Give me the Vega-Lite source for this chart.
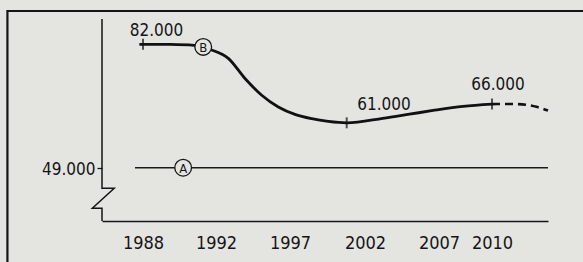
{
  "$schema": "https://vega.github.io/schema/vega-lite/v6.json",
  "autosize": {"type": "none"},
  "padding": {"left": 102, "top": 19, "right": 35, "bottom": 41},
  "width": 446,
  "height": 202,
  "background": "#e4e4e1",
  "config": {
    "view": {"stroke": null},
    "locale": {"number": {"decimal": ",", "thousands": ".", "grouping": [3], "currency": ["", " €"]}},
    "font": "DejaVu Sans Condensed"
  },
  "datasets": {
    "b": [
      {"year": 1987.8, "value": 82000},
      {"year": 1988, "value": 82000},
      {"year": 1989.5, "value": 81950},
      {"year": 1990.8, "value": 81700},
      {"year": 1991.76, "value": 80470},
      {"year": 1992.83, "value": 78240},
      {"year": 1993.96, "value": 72860},
      {"year": 1995.09, "value": 68370},
      {"year": 1996.21, "value": 65230},
      {"year": 1997.33, "value": 63260},
      {"year": 1998.45, "value": 62110},
      {"year": 1999.55, "value": 61380},
      {"year": 2000.78, "value": 61000},
      {"year": 2003.2, "value": 62200},
      {"year": 2005, "value": 63300},
      {"year": 2006.6, "value": 64300},
      {"year": 2008.36, "value": 65400},
      {"year": 2010, "value": 66000}
    ],
    "bdash": [
      {"year": 2010, "value": 66000},
      {"year": 2011, "value": 66050},
      {"year": 2012, "value": 65800},
      {"year": 2012.6, "value": 65200},
      {"year": 2013.2, "value": 64300}
    ],
    "a": [
      {"year": 1987.56, "value": 49000},
      {"year": 2013.2, "value": 49000}
    ],
    "marks": [
      {"year": 1988, "value": 82000},
      {"year": 2000.78, "value": 61000},
      {"year": 2010, "value": 66000}
    ],
    "labels": [
      {"year": 1988.74, "value": 84220, "label": 82000},
      {"year": 2003.28, "value": 64430, "label": 61000},
      {"year": 2010.34, "value": 69780, "label": 66000}
    ],
    "circles": [
      {"year": 1991.3, "value": 81300, "letter": "B"},
      {"year": 1990.2, "value": 49000, "letter": "A"}
    ],
    "axisline": [
      {"year": 1985.75, "value": 88760},
      {"year": 1985.75, "value": 43500},
      {"year": 1986.42, "value": 43500},
      {"year": 1985.22, "value": 38150},
      {"year": 1985.75, "value": 38150},
      {"year": 1985.75, "value": 34750}
    ],
    "frame": [
      {"year": 2016.5, "value": 90900},
      {"year": 1980.56, "value": 90900},
      {"year": 1980.56, "value": 22000}
    ],
    "years": [
      {"year": 1988}, {"year": 1992}, {"year": 1997}, {"year": 2002}, {"year": 2007}, {"year": 2010}
    ]
  },
  "encoding": {
    "x": {
      "field": "year",
      "type": "quantitative",
      "scale": {
        "domain": [1985.75, 1988, 1992, 1997, 2002, 2007, 2010, 2013.2],
        "range": [0, 41, 114, 188, 263, 337, 390, 446],
        "nice": false,
        "zero": false
      },
      "axis": {
        "values": [1988, 1992, 1997, 2002, 2007, 2010],
        "format": "d",
        "title": null,
        "grid": false,
        "ticks": false,
        "tickSize": 0,
        "domain": true,
        "domainColor": "#151515",
        "domainWidth": 1.7,
        "labelFont": "DejaVu Sans Condensed",
        "labelFontSize": 18,
        "labelColor": "#151515",
        "labelPadding": 27,
        "labelBaseline": "alphabetic",
        "labelFlush": false,
        "labelOverlap": false
      }
    },
    "y": {
      "field": "value",
      "type": "quantitative",
      "scale": {"domain": [34750, 88760], "nice": false, "zero": false},
      "axis": {
        "values": [49000],
        "format": ",d",
        "title": null,
        "grid": false,
        "domain": false,
        "ticks": true,
        "tickSize": 5,
        "tickWidth": 1.3,
        "tickColor": "#151515",
        "labelFont": "DejaVu Sans Condensed",
        "labelFontSize": 17,
        "labelColor": "#151515",
        "labelPadding": 2,
        "labelOffset": 2
      }
    }
  },
  "layer": [
    {
      "data": {"name": "frame"},
      "mark": {"type": "line", "color": "#151515", "strokeWidth": 2.2, "strokeJoin": "miter"},
      "encoding": {"order": {"value": null}}
    },
    {
      "data": {"name": "axisline"},
      "mark": {"type": "line", "color": "#151515", "strokeWidth": 1.5, "strokeJoin": "miter"},
      "encoding": {"order": {"value": null}}
    },
    {
      "data": {"name": "years"},
      "mark": {"type": "rule", "color": "#151515", "strokeWidth": 1.4},
      "encoding": {"y": {"datum": 33950}, "y2": {"datum": 35820}}
    },
    {
      "data": {"name": "a"},
      "mark": {"type": "line", "color": "#1a1a1a", "strokeWidth": 1.6},
      "encoding": {}
    },
    {
      "data": {"name": "b"},
      "mark": {"type": "line", "color": "#111111", "strokeWidth": 2.8, "interpolate": "monotone"},
      "encoding": {}
    },
    {
      "data": {"name": "bdash"},
      "mark": {"type": "line", "color": "#111111", "strokeWidth": 2.6, "interpolate": "monotone", "strokeDash": [8, 5]},
      "encoding": {}
    },
    {
      "data": {"name": "marks"},
      "mark": {"type": "tick", "orient": "vertical", "color": "#111111", "thickness": 2, "size": 11}
    },
    {
      "data": {"name": "labels"},
      "mark": {"type": "text", "font": "DejaVu Sans Condensed", "fontSize": 17, "color": "#151515", "align": "center", "baseline": "alphabetic"},
      "encoding": {"text": {"field": "label", "type": "quantitative", "format": ",d"}}
    },
    {
      "data": {"name": "circles"},
      "mark": {"type": "point", "shape": "circle", "filled": false, "fill": "#e4e4e1", "fillOpacity": 1, "stroke": "#151515", "strokeWidth": 1.3, "opacity": 1, "size": 280}
    },
    {
      "data": {"name": "circles"},
      "mark": {"type": "text", "font": "DejaVu Sans Condensed", "fontSize": 13, "color": "#151515", "align": "center", "baseline": "middle", "dy": 1},
      "encoding": {"text": {"field": "letter"}}
    }
  ]
}
